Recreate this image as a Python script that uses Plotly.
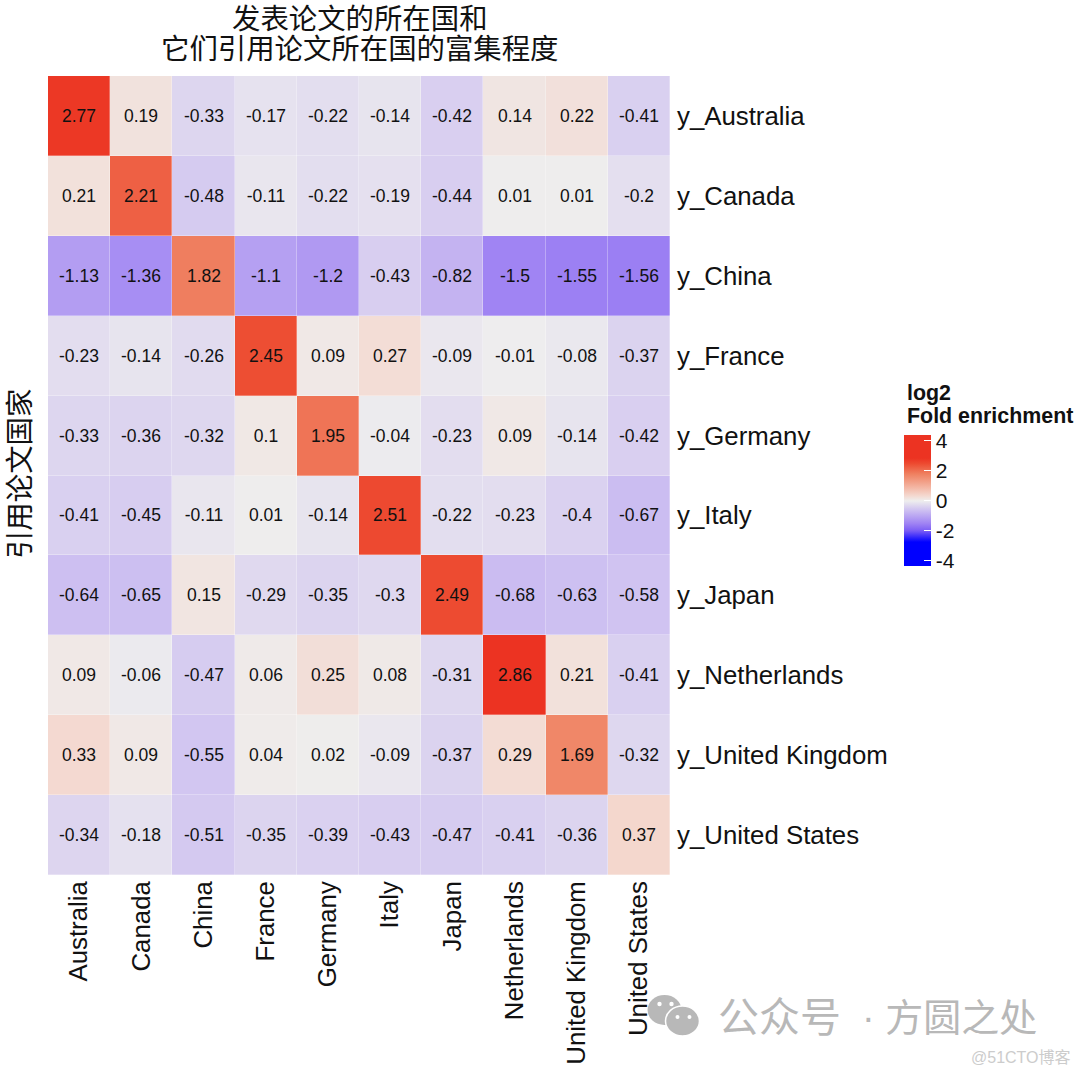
import plotly.graph_objects as go

x_labels = ["Australia", "Canada", "China", "France", "Germany", "Italy", "Japan",
            "Netherlands", "United Kingdom", "United States"]
y_labels = ["y_" + c for c in x_labels]

row_australia = [2.77, 0.19, -0.33, -0.17, -0.22, -0.14, -0.42, 0.14, 0.22, -0.41]
row_canada = [0.21, 2.21, -0.48, -0.11, -0.22, -0.19, -0.44, 0.01, 0.01, -0.2]
row_china = [-1.13, -1.36, 1.82, -1.1, -1.2, -0.43, -0.82, -1.5, -1.55, -1.56]
row_france = [-0.23, -0.14, -0.26, 2.45, 0.09, 0.27, -0.09, -0.01, -0.08, -0.37]
row_germany = [-0.33, -0.36, -0.32, 0.1, 1.95, -0.04, -0.23, 0.09, -0.14, -0.42]
row_italy = [-0.41, -0.45, -0.11, 0.01, -0.14, 2.51, -0.22, -0.23, -0.4, -0.67]
row_japan = [-0.64, -0.65, 0.15, -0.29, -0.35, -0.3, 2.49, -0.68, -0.63, -0.58]
row_netherlands = [0.09, -0.06, -0.47, 0.06, 0.25, 0.08, -0.31, 2.86, 0.21, -0.41]
row_uk = [0.33, 0.09, -0.55, 0.04, 0.02, -0.09, -0.37, 0.29, 1.69, -0.32]
row_us = [-0.34, -0.18, -0.51, -0.35, -0.39, -0.43, -0.47, -0.41, -0.36, 0.37]
z = [row_australia, row_canada, row_china, row_france, row_germany,
     row_italy, row_japan, row_netherlands, row_uk, row_us]

Z_MIN, Z_MAX = -4.35, 4.4
stops = [(-4.35, "#0000FF"), (-2.75, "#0000FF"), (-2.0, "#7A5CF5"), (-1.5, "#A084F3"),
         (-0.6, "#CFC2F1"), (-0.3, "#DFD8EF"), (0, "#EEEEEE"), (0.35, "#F4D8CF"), (1.0, "#F3B09C"),
         (1.8, "#EF8060"), (2.5, "#ED4A30"), (2.85, "#EC3322"), (4.4, "#EC3322")]
colorscale = [[(v - Z_MIN) / (Z_MAX - Z_MIN), c] for v, c in stops]

FONT = "Liberation Sans, Noto Sans CJK SC, sans-serif"
W, H = 1080, 1075
PL, PR, PT, PB = 48, 670.5, 76, 875
BAR_L, BAR_R, BAR_T, BAR_B = 905, 932, 435, 566
legend_ticks = [-4, -2, 0, 2, 4]


def fx(px):
    return (px - PL) / (PR - PL)


def fy(py):
    return (PB - py) / (PB - PT)


fig = go.Figure(go.Heatmap(
    z=z, x=x_labels, y=y_labels, zmin=Z_MIN, zmax=Z_MAX, colorscale=colorscale,
    xgap=0.3, ygap=0.3,
    text=[[str(v) for v in r] for r in z], texttemplate="%{text}",
    textfont=dict(size=17.5, color="#111111", family=FONT),
    colorbar=dict(
        thickness=BAR_R - BAR_L, thicknessmode="pixels",
        len=BAR_B - BAR_T, lenmode="pixels",
        xref="paper", yref="paper",
        x=fx(BAR_L), xanchor="left", xpad=0,
        y=fy(BAR_T), yanchor="top", ypad=0,
        outlinewidth=0, tickvals=legend_ticks, ticktext=[str(t) for t in legend_ticks],
        ticks="inside", ticklen=7, tickwidth=1, tickcolor="white",
        tickfont=dict(size=21, color="#111111", family=FONT),
    ),
))

shapes = []
for t in legend_ticks:
    yy = BAR_T + (Z_MAX - t) / (Z_MAX - Z_MIN) * (BAR_B - BAR_T)
    shapes.append(dict(type="line", xref="paper", yref="paper",
                       x0=fx(BAR_L), x1=fx(BAR_L + 7), y0=fy(yy), y1=fy(yy),
                       line=dict(color="white", width=1)))


def ell(cx, cy, rx, ry, col, line=None):
    return dict(type="circle", xref="paper", yref="paper", layer="above",
                x0=fx(cx - rx), x1=fx(cx + rx), y0=fy(cy + ry), y1=fy(cy - ry),
                fillcolor=col, line=dict(color=line or col, width=1.5 if line else 0))


GRAY = "#B8B8B8"
shapes += [ell(665, 1010, 17, 15, GRAY), ell(683, 1021, 17, 15, GRAY, "white"),
           ell(660, 1004, 2.2, 2.2, "white"), ell(672, 1004, 2.2, 2.2, "white"),
           ell(678, 1017, 2, 2, "white"), ell(690, 1017, 2, 2, "white")]


def note(text, px, py, size, color="#111111", xanchor="center", **kw):
    return dict(text=text, xref="paper", yref="paper", x=fx(px), y=fy(py),
                xanchor=xanchor, yanchor="middle", showarrow=False,
                font=dict(size=size, color=color), **kw)


annotations = [
    note("发表论文的所在国和", 360, 19, 28.4),
    note("它们引用论文所在国的富集程度", 360, 49, 28.4),
    note("引用论文国家", 20, 474, 28.4, textangle=-90),
    note("<b>log2</b>", 906, 393, 21.4, xanchor="left"),
    note("<b>Fold enrichment</b>", 906, 416, 21.4, xanchor="left"),
    note("公众号", 717, 1018, 41, GRAY, xanchor="left"),
    note("· 方圆之处", 1040, 1018, 38, GRAY, xanchor="right"),
    note("@51CTO博客", 1074, 1057, 16, "#CCCCCC", xanchor="right"),
]

fig.update_layout(
    width=W, height=H,
    margin=dict(l=PL, r=W - PR, t=PT, b=H - PB, autoexpand=False),
    paper_bgcolor="white", plot_bgcolor="white",
    font=dict(family=FONT, color="#111111"),
    xaxis=dict(side="bottom", tickangle=-90, tickfont=dict(size=25.8, color="#111111"),
               ticks="", showgrid=False, zeroline=False, showline=False, automargin=False),
    yaxis=dict(side="right", autorange="reversed", tickfont=dict(size=25.8, color="#111111"),
               ticks="", showgrid=False, zeroline=False, showline=False, automargin=False,
               ticklabelstandoff=6),
    annotations=annotations, shapes=shapes,
)

fig.write_html("out.html", config={"displayModeBar": False},
               post_script="document.body.style.margin='0';document.documentElement.style.overflow='hidden';")
